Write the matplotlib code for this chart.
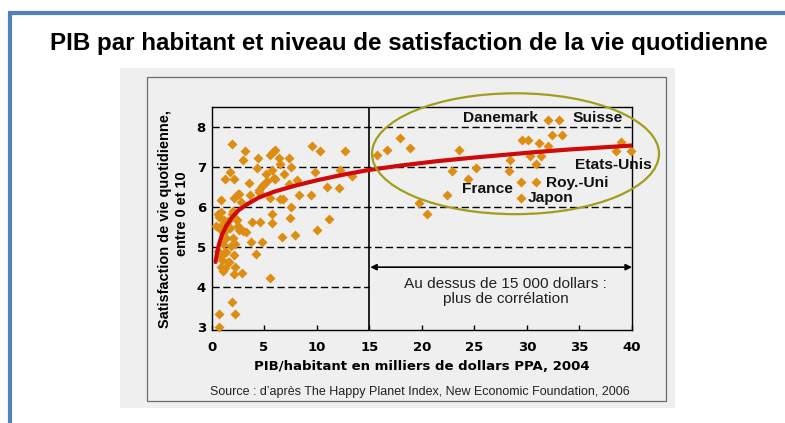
import matplotlib
matplotlib.use("Agg")
import matplotlib.pyplot as plt
from matplotlib.patches import Ellipse, Rectangle
from matplotlib.lines import Line2D
from matplotlib import font_manager as fm

# ---------------- data ----------------
pib_milliers = [
    1.97, 3.17, 2.98, 4.45, 5.55, 6.05, 5.85, 6.40, 5.77, 6.56, 5.93, 1.80, 1.25, 2.10, 3.54,
    4.34, 4.98, 5.30, 4.50, 0.95, 2.59, 2.11, 3.70, 2.85, 6.77, 5.54, 4.84, 0.86, 0.70, 1.17,
    1.97, 2.45, 0.86, 1.65, 2.60, 3.24, 3.87, 4.66, 5.77, 5.77, 6.72, 2.28, 3.71, 4.82, 4.19,
    5.61, 0.70, 1.33, 2.12, 1.02, 1.65, 0.86, 1.33, 2.28, 2.12, 2.92, 1.10, 1.97, 0.76, 2.28,
    0.70, 1.10, 1.27, 1.74, 2.06, 2.37, 2.53, 3.00, 2.06, 1.42, 1.10, 0.63, 0.95, 1.42, 1.58,
    1.90, 0.47, 0.79, 1.58, 0.63, 2.53, 4.53, 6.00, 6.90, 5.22, 6.49,
    9.56, 10.35, 12.73, 7.34, 7.60, 9.88, 12.25, 13.36, 8.14, 7.34, 8.30, 9.50, 11.00, 12.10,
    7.60, 7.50, 11.20, 10.00, 7.90,
    15.70, 16.70, 17.95, 18.90, 23.50, 22.86, 25.17, 24.40, 22.38, 19.70, 20.50, 28.40, 28.30,
    29.50, 30.10, 31.20, 32.00, 30.30, 31.30, 30.90, 32.40, 33.30, 32.00, 33.10, 29.40, 30.90,
    29.40, 39.00, 38.50, 39.95,
]
satisfaction = [
    7.58, 7.40, 7.18, 7.21, 7.30, 7.42, 7.36, 7.22, 6.92, 7.08, 6.71, 6.87, 6.69, 6.69, 6.60,
    6.96, 6.57, 6.65, 6.42, 6.18, 6.33, 6.21, 6.29, 6.11, 6.19, 6.23, 6.52, 5.88, 5.75, 5.67,
    5.83, 5.67, 5.50, 5.50, 5.42, 5.38, 5.63, 5.63, 5.83, 5.60, 5.25, 5.08, 5.13, 5.13, 4.81,
    4.22, 4.83, 4.88, 4.79, 4.67, 4.63, 4.50, 4.46, 4.50, 4.33, 4.35, 4.40, 3.63, 3.33, 3.32,
    3.00, 5.57, 5.40, 5.48, 5.90, 5.69, 5.52, 5.40, 5.23, 5.23, 5.07, 4.90, 4.78, 4.86, 4.61,
    5.03, 5.53, 5.44, 5.65, 5.82, 6.32, 6.36, 6.69, 6.83, 6.83, 6.19,
    7.52, 7.39, 7.40, 7.21, 7.00, 6.88, 6.92, 6.77, 6.67, 6.57, 6.29, 6.29, 6.50, 6.48,
    6.00, 5.71, 5.69, 5.43, 5.29,
    7.29, 7.42, 7.71, 7.48, 7.42, 6.90, 6.98, 6.69, 6.29, 6.10, 5.81, 7.18, 6.90,
    7.68, 7.68, 7.60, 7.52, 7.27, 7.27, 7.07, 7.79, 7.79, 8.18, 8.18, 6.61, 6.61,
    6.23, 7.63, 7.39, 7.39,
]

# trend curve
tendance_pib = [0.38, 0.5, 0.7, 1.0, 1.4, 2.0, 2.6, 3.5, 4.5, 6.0, 8.0, 10.0, 12.5, 15.0,
                18.0, 21.5, 25.0, 28.0, 31.0, 34.0, 37.0, 40.0]
tendance_sat = [4.62, 4.80, 5.05, 5.30, 5.52, 5.75, 5.92, 6.08, 6.23, 6.38, 6.53, 6.66, 6.80,
                6.92, 7.03, 7.14, 7.23, 7.30, 7.37, 7.43, 7.48, 7.53]

pays = ["Danemark", "Suisse", "Etats-Unis", "Roy.-Uni", "France", "Japon"]
pays_x = [31.0, 34.3, 34.55, 31.85, 28.7, 30.07]
pays_y = [8.21, 8.21, 7.04, 6.60, 6.45, 6.21]
pays_ha = ["right", "left", "left", "left", "right", "left"]

x_ticks = [0, 5, 10, 15, 20, 25, 30, 35, 40]
y_ticks = [3, 4, 5, 6, 7, 8]
grille_y = [4, 5, 6, 7, 8]
grille_fin = [15, 40, 40, 32.7, 40]

titre = "PIB par habitant et niveau de satisfaction de la vie quotidienne"
x_label = "PIB/habitant en milliers de dollars PPA, 2004"
y_label_1 = "Satisfaction de vie quotidienne,"
y_label_2 = "entre 0 et 10"
note = "Au dessus de 15 000 dollars :\nplus de corrélation"
source = "Source : d\u2019après The Happy Planet Index, New Economic Foundation, 2006"

# ---------------- figure ----------------
names = {f.name for f in fm.fontManager.ttflist}
NARROW = "Liberation Sans Narrow" if "Liberation Sans Narrow" in names else "Liberation Sans"

W, H = 785, 423
fig = plt.figure(figsize=(W / 100, H / 100), dpi=100)
fig.patch.set_facecolor("white")


def fx(px):
    return px / W


def fy(py):
    return 1 - py / H


# grey panel and inner frame (drawn beneath the axes)
fig.patches.append(Rectangle((fx(120), fy(408)), (675 - 120) / W, (408 - 68) / H,
                             transform=fig.transFigure, facecolor="#efefef",
                             edgecolor="none", zorder=-3))
fig.patches.append(Rectangle((fx(147), fy(401)), (666 - 147) / W, (401 - 77) / H,
                             transform=fig.transFigure, facecolor="none",
                             edgecolor="#6a6a6a", lw=0.9, zorder=-2))
# blue border (top and left)
blue = "#4f81bd"
fig.lines.append(Line2D([fx(7.5), 1.0], [fy(12.8), fy(12.8)], transform=fig.transFigure,
                        color=blue, lw=3.0, solid_capstyle="butt", zorder=-1))
fig.lines.append(Line2D([fx(9.5), fx(9.5)], [fy(10.8), 0.0], transform=fig.transFigure,
                        color=blue, lw=3.0, solid_capstyle="butt", zorder=-1))

ax = fig.add_axes([fx(211.5), fy(330), (632 - 211.5) / W, (330 - 107.3) / H])
ax.set_facecolor("none")
ax.set_zorder(1)
ax.set_xlim(0, 40)
ax.set_ylim(2.92, 8.485)

for yv, xe in zip(grille_y, grille_fin):
    ax.plot([0, xe], [yv, yv], color="black", lw=1.0, dashes=(5.2, 2.6), zorder=1)
ax.axvline(15, color="black", lw=1.2, zorder=2)

ax.plot(pib_milliers, satisfaction, linestyle="none", marker="D", ms=4.6,
        color="#dd8d12", mec="none", zorder=3, clip_on=False)
ax.plot(tendance_pib, tendance_sat, color="#d00a0a", lw=3.0, zorder=4,
        solid_capstyle="round")

ell = Ellipse((28.92, 7.325), 27.3, 3.02, fill=False, edgecolor="#a39d1e", lw=1.6,
              clip_on=False, zorder=5)
ax.add_patch(ell)

country_texts = []
for name, x, y, ha in zip(pays, pays_x, pays_y, pays_ha):
    t = ax.text(x, y, name, ha=ha, va="center", fontsize=11, fontweight="bold",
                family="Liberation Sans", color="#111111", zorder=6, clip_on=False)
    country_texts.append(t)

ax.annotate("", xy=(40, 4.49), xytext=(15.1, 4.49),
            arrowprops=dict(arrowstyle="<|-|>", color="black", lw=1.2,
                            mutation_scale=9, shrinkA=0, shrinkB=0), zorder=6)
t_note = ax.text(28.0, 3.88, note, ha="center", va="center", fontsize=10.5,
                 family="Liberation Sans", color="#222222", linespacing=1.15)

for s in ax.spines.values():
    s.set_color("black")
    s.set_linewidth(1.0)
ax.set_xticks(x_ticks)
ax.set_yticks(y_ticks)
ax.tick_params(axis="x", direction="in", length=3.5, width=1, pad=8,
               labelsize=9.5, colors="black")
ax.tick_params(axis="y", direction="in", length=0, pad=4, labelsize=9.5)
for lab in ax.get_xticklabels() + ax.get_yticklabels():
    lab.set_fontweight("bold")
    lab.set_family("DejaVu Sans")

t_title = fig.text(fx(408.7), fy(50), titre, ha="center", va="baseline",
                   fontsize=14, fontweight="bold", family="Liberation Sans")
t_xl = fig.text(fx(421.5), fy(366), x_label, ha="center", va="center", fontsize=9,
                fontweight="bold", family="DejaVu Sans")
t_y1 = fig.text(fx(165), fy(219), y_label_1, ha="center", va="center", rotation=90,
                fontsize=10, fontweight="bold", family=NARROW)
t_y2 = fig.text(fx(181.7), fy(214), y_label_2, ha="center", va="center", rotation=90,
                fontsize=10, fontweight="bold", family=NARROW)
t_src = fig.text(fx(420), fy(392), source, ha="center", va="center", fontsize=8,
                 family=NARROW, color="#222222")

# size the texts to the widths measured on the reference
fig.canvas.draw()
r = fig.canvas.get_renderer()


def fit(t, target, vertical=False):
    bb = t.get_window_extent(r)
    cur = bb.height if vertical else bb.width
    t.set_fontsize(t.get_fontsize() * target / cur)


fit(t_title, 717)
fit(t_xl, 333)
fit(t_y1, 218, vertical=True)
t_y2.set_fontsize(t_y1.get_fontsize())
fit(t_src, 424)
fit(t_note, 205)
fit(country_texts[0], 75)
for t in country_texts[1:]:
    t.set_fontsize(country_texts[0].get_fontsize())

fig.savefig("out.png", dpi=100, facecolor="white")
